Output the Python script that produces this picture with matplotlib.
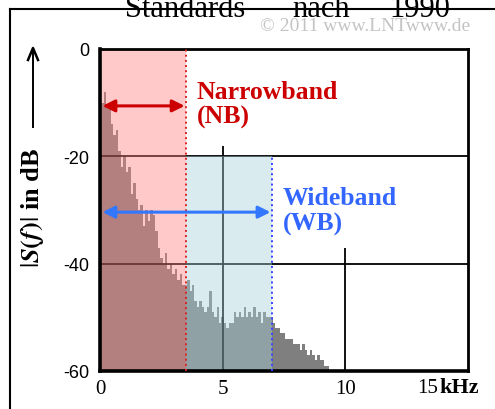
import numpy as np
import matplotlib.pyplot as plt
from matplotlib.lines import Line2D

plt.rcParams['mathtext.fontset'] = 'stix'

freq_khz = np.round(np.arange(0, 9.45, 0.1), 2)
spec_db = [-12, -10, -8, -11, -10, -14, -16, -15, -19, -22,
           -20, -23, -22, -27, -25, -28, -30, -29, -33, -30,
           -32, -30, -31, -34, -37, -39, -40, -38, -41, -40,
           -42, -41, -43, -42, -44, -44, -43, -45, -44, -47,
           -48, -47, -48, -49, -48, -45, -49, -50, -48, -51,
           -50, -51, -52, -51, -51, -49, -50, -49, -50, -48,
           -50, -49, -50, -48, -50, -49, -51, -49, -50, -50,
           -50, -51, -52, -52, -53, -53, -54, -54, -54, -55,
           -55, -55, -56, -55, -56, -57, -56, -57, -58, -57,
           -58, -58, -59, -59, -60]

# Bands
nb_limit = 3.5
wb_limit = 7.0
wb_top = -20

# Axis ticks
yticks = [0, -20, -40, -60]
xticks = [0, 5, 10]
x_last_label = "15"

# Partial vertical grid lines (x, top in dB)
vgrid_x = [5, 10]
vgrid_top = [-18, -37]
hgrid_y = [-20, -40]

fig = plt.figure(figsize=(4.95, 4.10), dpi=100)
ax = fig.add_axes([100 / 495, 38 / 410, 368 / 495, 322 / 410])

# spectrum
ax.fill_between(freq_khz, spec_db, -60, step='mid', color='#7f7f7f',
                linewidth=0, zorder=1)

# grid
for y in hgrid_y:
    ax.axhline(y, color='black', lw=1.3, zorder=1.5)
for x, top in zip(vgrid_x, vgrid_top):
    ax.vlines(x, -60, top, color='black', lw=1.3, zorder=1.5)

# band overlays
ax.axvspan(0, nb_limit, color=(1.0, 0.5, 0.5), alpha=0.42, lw=0, zorder=2)
ax.fill_between([nb_limit, wb_limit], wb_top, -60, color=(0.65, 0.82, 0.86),
                alpha=0.42, lw=0, zorder=2)
ax.vlines(nb_limit, -60, 0, color='#dd2222', lw=1.4, linestyles=':', zorder=3)
ax.vlines(wb_limit, -60, wb_top, color='#3344ff', lw=1.4, linestyles=':', zorder=3)

# arrows
ax.annotate('', xy=(0.1, -10.6), xytext=(nb_limit - 0.05, -10.6),
            arrowprops=dict(arrowstyle='<|-|>', color='#cc0000', lw=2.2,
                            mutation_scale=18, shrinkA=0, shrinkB=0), zorder=4)
ax.annotate('', xy=(0.1, -30.4), xytext=(wb_limit - 0.05, -30.4),
            arrowprops=dict(arrowstyle='<|-|>', color='#3377ff', lw=2.2,
                            mutation_scale=18, shrinkA=0, shrinkB=0), zorder=4)

serif = 'Liberation Serif'
ax.text(3.95, -5.8, "Narrowband\n(NB)", color='#cc0000', fontsize=18.5,
        fontweight='bold', family=serif, va='top', ha='left',
        linespacing=1.1, zorder=5)
ax.text(7.45, -25.6, "Wideband\n(WB)", color='#3366ff', fontsize=18.5,
        fontweight='bold', family=serif, va='top', ha='left',
        linespacing=1.1, zorder=5)

ax.set_xlim(0, 15)
ax.set_ylim(-60, 0)
ax.set_yticks(yticks)
ax.set_yticklabels([str(v) for v in yticks], family='Liberation Sans', fontsize=13)
ax.set_xticks(xticks)
ax.set_xticklabels([str(v) for v in xticks], family=serif, fontsize=15)
ax.tick_params(length=0, pad=8)
ax.tick_params(axis='x', pad=6)
ax.text(13.35, -61.3, x_last_label, family=serif, fontsize=15,
        ha='center', va='top')
ax.text(13.85, -61.1, "kHz", family=serif, fontsize=16, fontweight='bold',
        ha='left', va='top')

for side in ['left', 'bottom']:
    ax.spines[side].set_linewidth(2.6)
for side in ['top', 'right']:
    ax.spines[side].set_linewidth(2.0)
ax.set_zorder(1)

# y label with arrow
fig.text(33 / 495, 1 - 208 / 410, r"$|\mathbfit{S}\mathbf{(}\mathbfit{f}\mathbf{)}|$ in dB",
         rotation=90, ha='center', va='center', fontsize=19, fontweight='bold',
         family=serif)
fig.add_artist(Line2D([33 / 495, 33 / 495], [1 - 128 / 410, 1 - 50 / 410],
                      color='black', lw=1.4))
fig.add_artist(Line2D([28 / 495, 33 / 495, 38 / 495],
                      [1 - 61 / 410, 1 - 49 / 410, 1 - 61 / 410],
                      color='black', lw=1.8))

# outer frame (top and left only visible)
fig.add_artist(Line2D([10 / 495, 1], [1 - 10 / 410, 1 - 10 / 410], color='black', lw=1.5))
fig.add_artist(Line2D([10 / 495, 10 / 495], [0, 1 - 10 / 410], color='black', lw=1.5))

# title (cut off at top) and copyright
for word, x in zip(["Standards", "nach", "1990"], [125, 292, 389]):
    fig.text(x / 495, 1 - 17 / 410, word, family=serif, fontsize=22,
             ha='left', va='baseline')
fig.text(470 / 495, 1 - 31 / 410, "\u00a9 2011 www.LNTwww.de", family=serif,
         fontsize=14, color='#c4c4c4', ha='right', va='baseline')

fig.savefig('out.png', dpi=100)
